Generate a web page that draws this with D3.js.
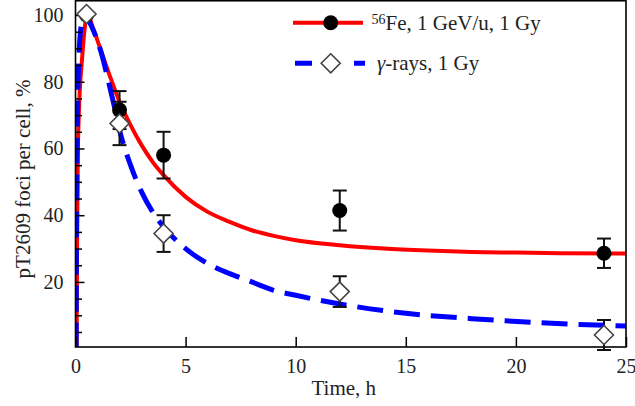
<!DOCTYPE html>
<html><head><meta charset="utf-8">
<script src="https://cdn.jsdelivr.net/npm/d3@7"></script>
<style>body{margin:0;background:#fff}svg{display:block}</style>
</head><body>
<svg id="c" width="635" height="406"></svg>
<script>
// ---- data ----
const feTimes = [0.5, 2, 4, 12, 24];
const feValues = [100, 71.5, 58, 41.4, 28.6];
const feErrors = [0, 5.7, 7, 6, 4.4];

const gTimes = [0.5, 2, 4, 12, 24];
const gValues = [100.3, 67.5, 34.5, 17.1, 4.1];
const gErrors = [0, 6.5, 5.5, 4.6, 4.5];

const feCurveT = [0.05, 0.07, 0.1, 0.15, 0.2, 0.3, 0.4, 0.55, 0.8, 1.2, 1.6, 2, 2.5, 3, 3.5, 4, 5, 6, 7, 8, 9, 10, 12, 14, 16, 18, 20, 22, 25];
const feCurveV = [0, 30, 55, 70, 78, 87, 95, 100, 96, 88.5, 81, 74, 67, 61, 56, 52, 45.5, 41, 38, 35.5, 33.8, 32.5, 31, 30, 29.4, 29, 28.8, 28.6, 28.5];

const gCurveT = [0.03, 0.05, 0.08, 0.12, 0.2, 0.3, 0.45, 0.7, 0.9, 1.2, 1.5, 1.75, 2, 2.5, 3, 3.5, 4, 5, 6, 7, 8, 9, 10, 12, 15, 18, 21, 25];
const gCurveV = [0, 40, 65, 80, 93, 98, 100, 97, 94, 88, 80, 73, 65.5, 55, 47, 41, 36.5, 30, 25.5, 22.5, 20, 17.5, 16, 13.4, 10.6, 9, 7.8, 6.8];

const xTicks = [0, 5, 10, 15, 20, 25];
const yTicks = [20, 40, 60, 80, 100];
const yMinor = [5, 10, 15, 25, 30, 35, 45, 50, 55, 65, 70, 75, 85, 90, 95];

// ---- layout ----
const svg = d3.select("#c");
const x = d3.scaleLinear().domain([0, 25]).range([75.5, 626]);
const y = d3.scaleLinear().domain([0.5, 104.5]).range([347, 0]);
const font = "'Liberation Serif','Times New Roman',serif";

svg.append("clipPath").attr("id", "clip").append("rect")
  .attr("x", 75.5).attr("y", 0).attr("width", 550.5).attr("height", 347);

const gPlot = svg.append("g").attr("clip-path", "url(#clip)");
const line = d3.line().x(d => x(d[0])).y(d => y(d[1])).curve(d3.curveMonotoneX);

gPlot.append("path").datum(d3.zip(feCurveT, feCurveV))
  .attr("d", line).attr("fill", "none").attr("stroke", "#ff0000").attr("stroke-width", 4);
gPlot.append("path").datum(d3.zip(gCurveT, gCurveV))
  .attr("d", line).attr("fill", "none").attr("stroke", "#0000ff").attr("stroke-width", 5)
  .attr("stroke-dasharray", "26,11");

// axes
const yAxis = d3.axisLeft(y).tickValues(yTicks).tickSizeInner(-9).tickSizeOuter(0).tickPadding(12);
const ya = svg.append("g").attr("transform", "translate(75.5,0)").call(yAxis);
ya.select(".domain").remove();
ya.selectAll("line").attr("stroke", "#000").attr("stroke-width", 1.5);
ya.selectAll("text").attr("font-family", font).attr("font-size", 20).attr("fill", "#222");

const yMinorAxis = d3.axisLeft(y).tickValues(yMinor).tickSizeInner(-6.5).tickSizeOuter(0).tickFormat("");
const ym = svg.append("g").attr("transform", "translate(75.5,0)").call(yMinorAxis);
ym.select(".domain").remove();
ym.selectAll("line").attr("stroke", "#000").attr("stroke-width", 1.5);

const xAxis = d3.axisBottom(x).tickValues(xTicks).tickSizeInner(-10).tickSizeOuter(0).tickPadding(12);
const xa = svg.append("g").attr("transform", "translate(0,347)").call(xAxis);
xa.select(".domain").remove();
xa.selectAll("line").attr("stroke", "#000").attr("stroke-width", 1.5);
xa.selectAll("text").attr("font-family", font).attr("font-size", 20).attr("fill", "#222");

// frame
svg.append("rect").attr("x", 75.5).attr("y", 0.75).attr("width", 550.5).attr("height", 346.25)
  .attr("fill", "none").attr("stroke", "#000").attr("stroke-width", 1.6);

// error bars
function errBars(ts, vs, es) {
  ts.forEach((t, i) => {
    if (!es[i]) return;
    const cx = x(t), y1 = y(vs[i] + es[i]), y2 = y(vs[i] - es[i]);
    const g = svg.append("g").attr("stroke", "#111").attr("stroke-width", 2);
    g.append("line").attr("x1", cx).attr("x2", cx).attr("y1", y1).attr("y2", y2);
    g.append("line").attr("x1", cx - 7).attr("x2", cx + 7).attr("y1", y1).attr("y2", y1);
    g.append("line").attr("x1", cx - 7).attr("x2", cx + 7).attr("y1", y2).attr("y2", y2);
  });
}
errBars(feTimes, feValues, feErrors);
errBars(gTimes, gValues, gErrors);

// markers
const diamond = (cx, cy, r) => `M${cx},${cy - r}L${cx + r},${cy}L${cx},${cy + r}L${cx - r},${cy}Z`;
feTimes.forEach((t, i) => {
  svg.append("circle").attr("cx", x(t)).attr("cy", y(feValues[i])).attr("r", 7.5).attr("fill", "#000");
});
gTimes.forEach((t, i) => {
  svg.append("path").attr("d", diamond(x(t), y(gValues[i]), 9.5))
    .attr("fill", "#fff").attr("stroke", "#444").attr("stroke-width", 1.6);
});

// legend
svg.append("line").attr("x1", 293).attr("x2", 363).attr("y1", 22.7).attr("y2", 22.7)
  .attr("stroke", "#ff0000").attr("stroke-width", 4);
svg.append("circle").attr("cx", 330.7).attr("cy", 22.7).attr("r", 7.5).attr("fill", "#000");
const t1 = svg.append("text").attr("x", 371.5).attr("y", 29.5).attr("font-family", font)
  .attr("font-size", 21).attr("fill", "#222");
t1.append("tspan").attr("font-size", 14).attr("dy", -5.5).text("56");
t1.append("tspan").attr("dy", 5.5).text("Fe, 1 GeV/u, 1 Gy");

svg.append("line").attr("x1", 295).attr("x2", 365).attr("y1", 63.3).attr("y2", 63.3)
  .attr("stroke", "#0000ff").attr("stroke-width", 5).attr("stroke-dasharray", "17,42,11");
svg.append("path").attr("d", diamond(330.7, 63.3, 9.5))
  .attr("fill", "#fff").attr("stroke", "#444").attr("stroke-width", 1.6);
const t2 = svg.append("text").attr("x", 377).attr("y", 69.5).attr("font-family", font)
  .attr("font-size", 21).attr("fill", "#222");
t2.append("tspan").attr("font-style", "italic").text("γ");
t2.append("tspan").text("-rays, 1 Gy");

// axis titles
svg.append("text").attr("x", 311.5).attr("y", 395).attr("font-family", font)
  .attr("font-size", 21).attr("fill", "#222").text("Time, h");
svg.append("text").attr("transform", "translate(30,179) rotate(-90)").attr("text-anchor", "middle")
  .attr("font-family", font).attr("font-size", 21).attr("fill", "#222").text("pT2609 foci per cell, %");
</script>
</body></html>
